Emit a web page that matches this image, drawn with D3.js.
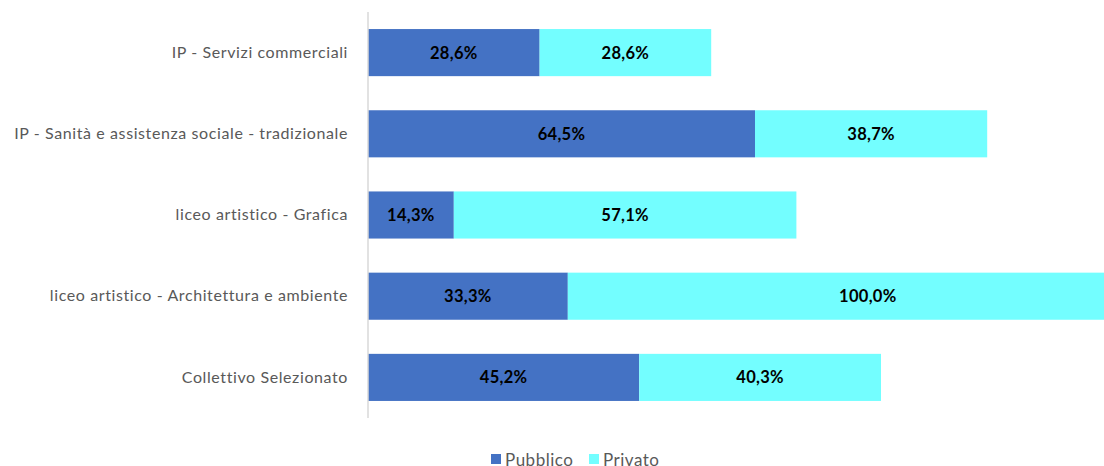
<!DOCTYPE html>
<html><head><meta charset="utf-8">
<script src="https://cdn.jsdelivr.net/npm/d3@7"></script>
<style>body{margin:0;background:#fff;overflow:hidden}</style>
</head><body><svg id="c" width="1104" height="466"></svg>
<script>
const categories = ["IP - Servizi commerciali","IP - Sanità e assistenza sociale - tradizionale","liceo artistico - Grafica","liceo artistico - Architettura e ambiente","Collettivo Selezionato"];
const pubblico = [28.6, 64.5, 14.3, 33.3, 45.2];
const privato = [28.6, 38.7, 57.1, 100.0, 40.3];
const seriesNames = ["Pubblico","Privato"];
const colors = ["#4472C4","#73FEFF"];

const svg = d3.select("#c");
const x = d3.scaleLinear().domain([0,100]).range([368,968]);
const y = d3.scaleBand().domain(categories).range([12,418]).paddingInner(0.42).paddingOuter(0.21);
const fmt = v => d3.format(".1f")(v).replace(".", ",") + "%";

const rows = categories.map((c,i)=>({c, vals:[pubblico[i], privato[i]]}));
const g = svg.append("g");
rows.forEach(r=>{
  let acc = 0;
  r.vals.forEach((v,j)=>{
    const x0 = x(acc), x1 = x(acc+v);
    g.append("rect").attr("x",x0).attr("y",y(r.c)).attr("width",x1-x0).attr("height",y.bandwidth()).attr("fill",colors[j]);
    g.append("text").attr("x",(x0+x1)/2).attr("y",y(r.c)+y.bandwidth()/2).attr("dy","0.36em")
      .attr("text-anchor","middle").attr("font-family","Lato, sans-serif").attr("font-weight","bold")
      .attr("font-size",16.5).attr("letter-spacing","0.3px").attr("fill","#000").text(fmt(v));
    acc += v;
  });
});

const axis = svg.append("g").attr("transform","translate(368,0)")
  .call(d3.axisLeft(y).tickSize(0).tickPadding(20));
axis.select(".domain").attr("stroke","#d9d9d9").attr("stroke-width",1.5).attr("d","M0,12V418");
axis.selectAll("text").attr("font-family","Lato, sans-serif").attr("font-size",16).attr("letter-spacing","0.6px").attr("fill","#595959");

const leg = svg.append("g");
const legX = [491, 589];
seriesNames.forEach((n,i)=>{
  leg.append("rect").attr("x",legX[i]).attr("y",454).attr("width",10).attr("height",10).attr("fill",colors[i]);
  leg.append("text").attr("x",legX[i]+14).attr("y",466).attr("font-family","Lato, sans-serif")
    .attr("font-size",17).attr("letter-spacing","0.5px").attr("fill","#595959").text(n);
});
</script></body></html>
